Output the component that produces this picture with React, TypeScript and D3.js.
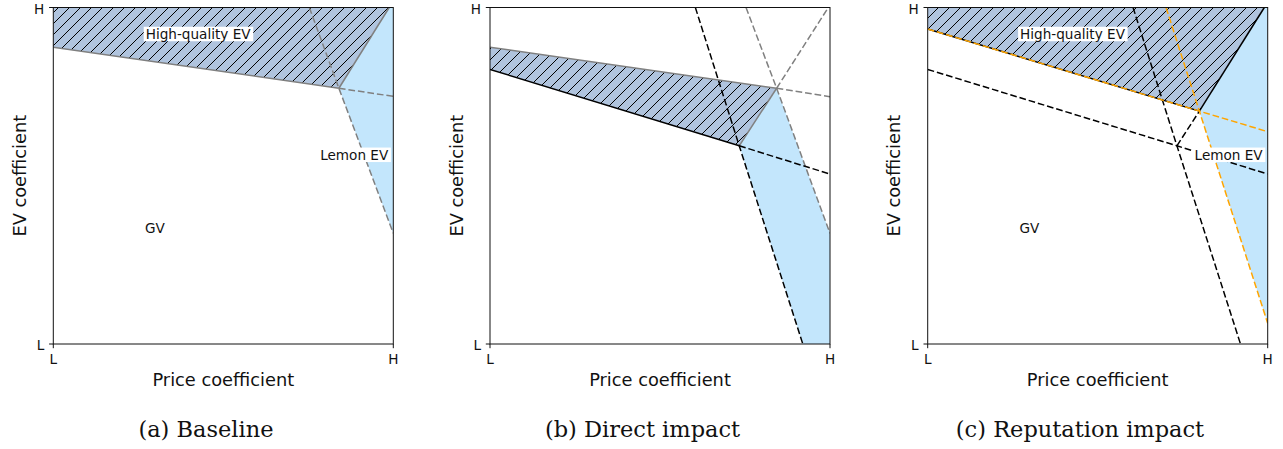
import React, { useLayoutEffect, useRef, useState } from "react";
import * as d3 from "d3";

type Pt = [number, number];

// ---- data (in coefficient space, L = 0, H = 1) ----
const tickValues = [0, 1];
const tickLabels = ["L", "H"];
const xLabel = "Price coefficient";
const yLabel = "EV coefficient";
const captions = ["(a) Baseline", "(b) Direct impact", "(c) Reputation impact"];
const regionLabels = ["High-quality EV", "Lemon EV", "GV"];
const regionLabelPos: Pt[] = [
  [0.426, 0.922],
  [0.885, 0.563],
  [0.299, 0.345],
];

// Panel (a) baseline
const hqRegionA: Pt[] = [[0, 1], [0, 0.882], [0.84, 0.76], [0.988, 1]];
const lemonRegionA: Pt[] = [[0.84, 0.76], [0.988, 1], [1, 1], [1, 0.329]];
// Panel (b) direct impact
const hqRegionB: Pt[] = [[0, 0.882], [0.843, 0.76], [0.733, 0.589], [0, 0.816]];
const lemonRegionB: Pt[] = [[0.733, 0.589], [0.843, 0.76], [1, 0.329], [1, 0], [0.92, 0]];
// Panel (c) reputation impact
const hqRegionC: Pt[] = [[0, 1], [0, 0.936], [0.799, 0.692], [0.99, 1]];
const lemonRegionC: Pt[] = [[0.799, 0.692], [0.99, 1], [1, 1], [1, 0.0615]];

interface Ln { pts: Pt[]; color: string; dashed: boolean }

const linesA: Ln[] = [
  { pts: [[0, 0.882], [0.84, 0.76]], color: "gray", dashed: false },
  { pts: [[0.84, 0.76], [0.988, 1]], color: "gray", dashed: false },
  { pts: [[0.84, 0.76], [1, 0.736]], color: "gray", dashed: true },
  { pts: [[0.753, 1], [0.84, 0.76], [1, 0.329]], color: "gray", dashed: true },
];
const linesB: Ln[] = [
  { pts: [[0, 0.882], [0.843, 0.76]], color: "gray", dashed: false },
  { pts: [[0.733, 0.589], [0.843, 0.76]], color: "gray", dashed: false },
  { pts: [[0.843, 0.76], [1, 0.735]], color: "gray", dashed: true },
  { pts: [[0.753, 1], [0.843, 0.76], [1, 0.329]], color: "gray", dashed: true },
  { pts: [[0.843, 0.76], [0.995, 1]], color: "gray", dashed: true },
  { pts: [[0, 0.816], [0.733, 0.589]], color: "black", dashed: false },
  { pts: [[0.733, 0.589], [1, 0.505]], color: "black", dashed: true },
  { pts: [[0.604, 1], [0.733, 0.589], [0.92, 0]], color: "black", dashed: true },
];
const linesC: Ln[] = [
  { pts: [[0, 0.936], [0.799, 0.692]], color: "black", dashed: false },
  { pts: [[0.799, 0.692], [0.99, 1]], color: "black", dashed: false },
  { pts: [[0, 0.816], [0.733, 0.589], [1, 0.505]], color: "black", dashed: true },
  { pts: [[0.604, 1], [0.733, 0.589], [0.92, 0]], color: "black", dashed: true },
  { pts: [[0.733, 0.589], [0.799, 0.692]], color: "black", dashed: true },
  { pts: [[0, 0.936], [0.799, 0.692], [1, 0.631]], color: "orange", dashed: true },
  { pts: [[0.701, 1], [0.799, 0.692], [1, 0.0615]], color: "orange", dashed: true },
];

interface PanelDef {
  left: number;
  captionX: number;
  hq: Pt[];
  lemon: Pt[];
  lines: Ln[];
  caption: string;
  showLabels: boolean;
}

const panels: PanelDef[] = [
  { left: 53.3, captionX: 206, hq: hqRegionA, lemon: lemonRegionA, lines: linesA, caption: captions[0], showLabels: true },
  { left: 490, captionX: 642.5, hq: hqRegionB, lemon: lemonRegionB, lines: linesB, caption: captions[1], showLabels: false },
  { left: 927.7, captionX: 1080, hq: hqRegionC, lemon: lemonRegionC, lines: linesC, caption: captions[2], showLabels: true },
];

const W = 1283;
const H = 449;
const axW = 340;
const axTop = 7.5;
const axBottom = 344;
const SANS = "'DejaVu Sans', sans-serif";
const HATCH_FILL = "#b0c4de";
const LEMON_FILL = "#c3e6fc";
const DASH = "6.7,2.9";
const HS = 11;

function BoxedText({ x, y, text }: { x: number; y: number; text: string }) {
  const ref = useRef<SVGTextElement>(null);
  const [bb, setBb] = useState<{ x: number; y: number; w: number; h: number } | null>(null);
  useLayoutEffect(() => {
    if (ref.current) {
      const b = ref.current.getBBox();
      setBb({ x: b.x, y: b.y, w: b.width, h: b.height });
    }
  }, [x, y, text]);
  return (
    <g>
      {bb && (
        <rect x={bb.x - 2} y={y - 7} width={bb.w + 4} height={14.5} fill="white" />
      )}
      <text
        ref={ref}
        x={x}
        y={y}
        textAnchor="middle"
        dominantBaseline="central"
        fontFamily={SANS}
        fontSize={13.6}
        fill="#111"
      >
        {text}
      </text>
    </g>
  );
}

function Panel({ p, idx }: { p: PanelDef; idx: number }) {
  const x = d3.scaleLinear().domain([0, 1]).range([p.left, p.left + axW]);
  const y = d3.scaleLinear().domain([0, 1]).range([axBottom, axTop]);
  const line = d3
    .line<Pt>()
    .x((d) => x(d[0]))
    .y((d) => y(d[1]));
  const poly = (pts: Pt[]) => line(pts) + "Z";
  const clipId = `clip${idx}`;
  return (
    <g>
      <defs>
        <clipPath id={clipId}>
          <rect x={p.left} y={axTop} width={axW} height={axBottom - axTop} />
        </clipPath>
      </defs>
      <g clipPath={`url(#${clipId})`}>
        <path d={poly(p.lemon)} fill={LEMON_FILL} stroke="none" />
        <path d={poly(p.hq)} fill={HATCH_FILL} stroke="none" />
        <path d={poly(p.hq)} fill="url(#hatch)" stroke="none" />
        {p.lines.map((l, i) => (
          <path
            key={i}
            d={line(l.pts) || ""}
            fill="none"
            stroke={l.color}
            strokeWidth={1.5}
            strokeDasharray={l.dashed ? DASH : undefined}
          />
        ))}
      </g>
      {/* spines */}
      <rect
        x={p.left}
        y={axTop}
        width={axW}
        height={axBottom - axTop}
        fill="none"
        stroke="#111"
        strokeWidth={1}
      />
      {/* ticks */}
      {tickValues.map((v, i) => (
        <g key={"t" + i}>
          <line x1={p.left - 4.2} x2={p.left} y1={y(v)} y2={y(v)} stroke="#111" strokeWidth={1} />
          <line x1={x(v)} x2={x(v)} y1={axBottom} y2={axBottom + 4.2} stroke="#111" strokeWidth={1} />
          <text
            x={p.left - 9}
            y={y(v) + 1}
            textAnchor="end"
            dominantBaseline="central"
            fontFamily={SANS}
            fontSize={13.6}
            fill="#111"
          >
            {tickLabels[i]}
          </text>
          <text
            x={x(v)}
            y={364}
            textAnchor="middle"
            fontFamily={SANS}
            fontSize={13.6}
            fill="#111"
          >
            {tickLabels[i]}
          </text>
        </g>
      ))}
      <text
        x={p.left + axW / 2}
        y={386}
        textAnchor="middle"
        fontFamily={SANS}
        fontSize={17.8}
        fill="#111"
      >
        {xLabel}
      </text>
      <text
        transform={`translate(${p.left - 27.5},${(axTop + axBottom) / 2}) rotate(-90)`}
        textAnchor="middle"
        fontFamily={SANS}
        fontSize={17.8}
        fill="#111"
      >
        {yLabel}
      </text>
      {p.showLabels &&
        regionLabels.map((t, i) =>
          t === "GV" ? (
            <text
              key={t}
              x={x(regionLabelPos[i][0])}
              y={y(regionLabelPos[i][1])}
              textAnchor="middle"
              dominantBaseline="central"
              fontFamily={SANS}
              fontSize={13.6}
              fill="#111"
            >
              {t}
            </text>
          ) : (
            <BoxedText key={t} x={x(regionLabelPos[i][0])} y={y(regionLabelPos[i][1])} text={t} />
          )
        )}
      <text
        x={p.captionX}
        y={437}
        textAnchor="middle"
        fontFamily="'DejaVu Serif', serif"
        fontSize={22.5}
        fill="#111"
      >
        {p.caption}
      </text>
    </g>
  );
}

export default function App() {
  return (
    <svg
      width={W}
      height={H}
      viewBox={`0 0 ${W} ${H}`}
      style={{ position: "absolute", left: 0, top: 0, background: "white" }}
    >
      <defs>
        <pattern id="hatch" patternUnits="userSpaceOnUse" width={HS} height={HS}>
          <path
            d={`M-1,1 l2,-2 M0,${HS} l${HS},-${HS} M${HS - 1},${HS + 1} l2,-2`}
            stroke="black"
            strokeWidth={1}
          />
        </pattern>
      </defs>
      <rect x={0} y={0} width={W} height={H} fill="white" />
      {panels.map((p, i) => (
        <Panel key={i} p={p} idx={i} />
      ))}
    </svg>
  );
}
